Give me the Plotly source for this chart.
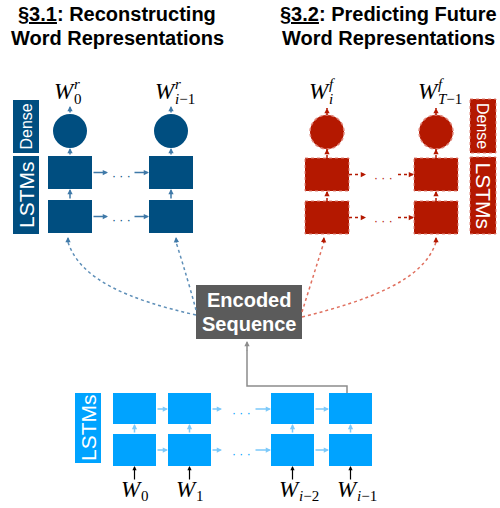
import plotly.graph_objects as go

# ---- diagram content ----
titles_left = ["<b><u>§3.1</u>: Reconstructing</b>", "<b>Word Representations</b>"]
titles_right = ["<b><u>§3.2</u>: Predicting Future</b>", "<b>Word Representations</b>"]
center_text = ["Encoded", "Sequence"]
layer_dense = "Dense"
layer_lstm = "LSTMs"

recon_labels = [("0", "<i>r</i>"), ("<i>i</i>−1", "<i>r</i>")]
future_labels = [("<i>i</i>", "<i>f</i>"), ("<i>T</i>−1", "<i>f</i>")]
input_labels = ["0", "1", "<i>i</i>−2", "<i>i</i>−1"]

DARK_BLUE = "#004E80"
RED = "#B41800"
LIGHT_BLUE = "#00A3FF"
GRAY = "#5B5B5B"

fig = go.Figure()
shapes = []
ann = []

def rect(x0, y0, x1, y1, fill, line=None, dash=None):
    shapes.append(dict(type="rect", xref="x", yref="y", x0=x0, y0=y0, x1=x1, y1=y1,
                       fillcolor=fill, line=dict(color=line or fill, width=1 if line else 0, dash=dash),
                       layer="above"))

def circle(cx, cy, r, fill, line=None, dash=None):
    shapes.append(dict(type="circle", xref="x", yref="y", x0=cx - r, y0=cy - r, x1=cx + r, y1=cy + r,
                       fillcolor=fill, line=dict(color=line or fill, width=1.5 if line else 0, dash=dash),
                       layer="above"))

def arrow(x0, y0, x1, y1, color, width=1.5, size=0.7):
    ann.append(dict(x=x1, y=y1, ax=x0, ay=y0, xref="x", yref="y", axref="x", ayref="y",
                    text="", showarrow=True, arrowhead=2, arrowsize=size, arrowwidth=width,
                    arrowcolor=color, standoff=0, startstandoff=0))

def dotted_arrow(x0, y0, x1, y1, color):
    shapes.append(dict(type="line", xref="x", yref="y", x0=x0, y0=y0, x1=x1, y1=y1,
                       line=dict(color=color, width=1.5, dash="dot")))
    dx, dy = x1 - x0, y1 - y0
    L = (dx * dx + dy * dy) ** 0.5
    arrow(x1 - dx / L * 3, y1 - dy / L * 3, x1, y1, color, width=1.5, size=0.7)

def text(x, y, s, size, color="black", family="Liberation Sans", angle=0, xanchor="center",
         yanchor="middle", pad=1):
    ann.append(dict(x=x, y=y, xref="x", yref="y", text=s, showarrow=False, textangle=angle,
                    font=dict(size=size, color=color, family=family), xanchor=xanchor,
                    yanchor=yanchor, borderpad=pad))

def wlabel(x, y, sub, sup=None, size=23):
    text(x + 2, y, "<i>W</i>", size, family="Liberation Serif", xanchor="right", pad=0)
    if sup is not None:
        text(x - 1, y - 7, sup, 15, family="Liberation Serif", xanchor="left", pad=0)
        text(x - 1, y + 8, sub, 15, family="Liberation Serif", xanchor="left", pad=0)
    else:
        text(x - 1, y + 7, sub, 15, family="Liberation Serif", xanchor="left", pad=0)

# ---- titles ----
text(117, 14, titles_left[0], 20)
text(117, 38, titles_left[1], 20)
text(388, 14, titles_right[0], 20)
text(388, 38, titles_right[1], 20)

# ---- left (reconstruction) block ----
BW, BH = 44, 33
top_y0, bot_y0 = 156, 200
circ_y, circ_r = 131, 17
left_cols = [70, 171]
right_cols = [327, 436]

rect(13, 100, 39, 153, DARK_BLUE)
rect(13, 156, 39, 234, DARK_BLUE)
text(26, 126.5, layer_dense, 16, "white", angle=-90)
text(26, 195, layer_lstm, 21, "white", angle=-90)

BLUE_ARROW = "#3F79A8"
for i, cx in enumerate(left_cols):
    rect(cx - BW / 2, top_y0, cx + BW / 2, top_y0 + BH, DARK_BLUE)
    rect(cx - BW / 2, bot_y0, cx + BW / 2, bot_y0 + BH, DARK_BLUE)
    circle(cx, circ_y, circ_r, DARK_BLUE)
    arrow(cx, bot_y0, cx, top_y0 + BH, BLUE_ARROW)
    arrow(cx, top_y0, cx, circ_y + circ_r, BLUE_ARROW)
    arrow(cx, circ_y - circ_r, cx, circ_y - circ_r - 8, BLUE_ARROW)
    sub, sup = recon_labels[i]
    wlabel(cx + 4, 91, sub, sup)

for yy in (top_y0 + BH / 2, bot_y0 + BH / 2):
    arrow(92, yy, 108, yy, BLUE_ARROW)
    arrow(133, yy, 149, yy, BLUE_ARROW)
    text(121, yy + 3, "· · ·", 12, DARK_BLUE)

# ---- right (prediction) block ----
RED_EDGE = "#E0857A"
rect(470, 99, 496, 153, RED, RED_EDGE, "dot")
rect(470, 157, 496, 234, RED, RED_EDGE, "dot")
text(483, 126, layer_dense, 16, "white", angle=90)
text(483, 195.5, layer_lstm, 21, "white", angle=90)

for i, cx in enumerate(right_cols):
    rect(cx - BW / 2, top_y0 + 2, cx + BW / 2, top_y0 + BH + 2, RED, RED_EDGE, "dot")
    rect(cx - BW / 2, bot_y0 + 1, cx + BW / 2, bot_y0 + BH + 1, RED, RED_EDGE, "dot")
    circle(cx, circ_y + 1, circ_r, RED, RED_EDGE, "dot")
    dotted_arrow(cx, bot_y0 + 1, cx, top_y0 + BH + 2, RED)
    dotted_arrow(cx, top_y0 + 2, cx, circ_y + 1 + circ_r, RED)
    dotted_arrow(cx, circ_y + 1 - circ_r, cx, circ_y + 1 - circ_r - 7, RED)
    sub, sup = future_labels[i]
    wlabel(cx + 2, 91, sub, sup)

for yy in (top_y0 + 2 + BH / 2, bot_y0 + 1 + BH / 2):
    dotted_arrow(349, yy, 366, yy, RED)
    dotted_arrow(398, yy, 414, yy, RED)
    text(383, yy + 3, "· · ·", 12, RED)

# ---- encoded sequence box ----
rect(196, 285, 302, 339, GRAY)
text(249, 300, "<b>" + center_text[0] + "</b>", 20, "white")
text(249, 324, "<b>" + center_text[1] + "</b>", 20, "white")

# dotted curves from encoded sequence to decoders
BLUE_DOT = "#5E8FB8"
RED_DOT = "#E0705F"
curves = [
    ("M 196,315 C 130,300 80,280 68,242", BLUE_DOT),
    ("M 196,310 Q 188,280 176,242", BLUE_DOT),
    ("M 302,312 Q 312,280 324,242", RED_DOT),
    ("M 302,317 C 370,300 424,280 436,242", RED_DOT),
]
for path, col in curves:
    shapes.append(dict(type="path", xref="x", yref="y", path=path,
                       line=dict(color=col, width=1.5, dash="dot")))
arrow(68, 244, 68, 237, BLUE_ARROW)
arrow(176.5, 244, 176, 237, BLUE_ARROW)
arrow(323.5, 244, 324, 237, RED)
arrow(436, 244, 436, 237, RED)

# ---- bottom encoder ----
enc_cols = [134.5, 189.5, 292.5, 350.5]
EW, EH = 43, 31
etop, ebot = 393, 434
LB_ARROW = "#7CC9FA"
rect(75, 393, 101, 463, LIGHT_BLUE)
text(88, 428, layer_lstm, 21, "white", angle=-90)
for i, cx in enumerate(enc_cols):
    rect(cx - EW / 2, etop, cx + EW / 2, etop + EH, LIGHT_BLUE)
    rect(cx - EW / 2, ebot, cx + EW / 2, ebot + 32, LIGHT_BLUE)
    arrow(cx, ebot, cx, etop + EH, LB_ARROW)
    arrow(cx, 481, cx, ebot + 32, "black", width=1.2)
    wlabel(cx + 6, 489, input_labels[i])

for yy in (409, 450):
    arrow(156, yy, 168, yy, LB_ARROW)
    arrow(211, yy, 222, yy, LB_ARROW)
    arrow(254, yy, 271, yy, LB_ARROW)
    arrow(314, yy, 329, yy, LB_ARROW)
    text(241, yy + 4, "· · ·", 12, LIGHT_BLUE)

# gray connector from last encoder step to encoded sequence
CONN = "#8C8C8C"
shapes.append(dict(type="path", xref="x", yref="y", path="M 347,393 L 347,386 L 247,386 L 247,350",
                   line=dict(color=CONN, width=1.5)))
arrow(247, 352, 247, 341, CONN, width=1.5, size=0.7)

fig.update_layout(
    width=500, height=508,
    margin=dict(l=0, r=0, t=0, b=0),
    paper_bgcolor="white", plot_bgcolor="white",
    xaxis=dict(range=[0, 500], visible=False, fixedrange=True),
    yaxis=dict(range=[508, 0], visible=False, fixedrange=True),
    shapes=shapes, annotations=ann, showlegend=False,
)
fig.write_html("out.html", config={"displayModeBar": False},
               post_script="document.body.style.margin='0';document.body.style.overflow='hidden';")
